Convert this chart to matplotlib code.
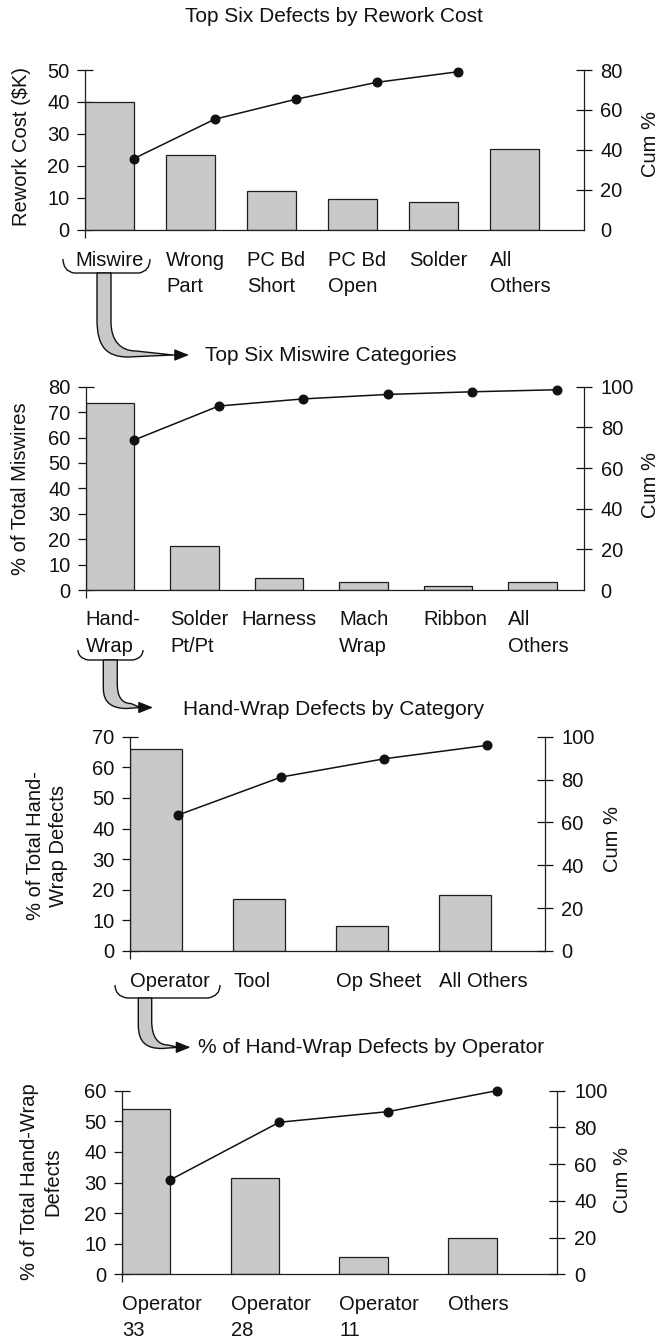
import numpy as np
import matplotlib
matplotlib.use("Agg")
import matplotlib.pyplot as plt
from matplotlib.path import Path
from matplotlib.patches import PathPatch, FancyArrowPatch
from matplotlib.transforms import blended_transform_factory

plt.rcParams['font.family'] = ['Liberation Sans', 'DejaVu Sans']

# ---------------- data ----------------
p1_title = "Top Six Defects by Rework Cost"
p1_cats = ["Miswire", "Wrong\nPart", "PC Bd\nShort", "PC Bd\nOpen", "Solder", "All\nOthers"]
p1_cost = [40.0, 23.3, 12.1, 9.6, 8.5, 25.1]
p1_cum = [35.5, 55.3, 65.3, 73.8, 79.1]
p1_ylabel = ["Rework Cost ($K)"]
p1_yticks = [0, 10, 20, 30, 40, 50]
p1_cticks = [0, 20, 40, 60, 80]

p2_title = "Top Six Miswire Categories"
p2_cats = ["Hand-\nWrap", "Solder\nPt/Pt", "Harness", "Mach\nWrap", "Ribbon", "All\nOthers"]
p2_pct = [73.7, 17.3, 4.7, 3.3, 1.7, 3.3]
p2_cum = [73.8, 90.5, 94.0, 96.2, 97.5, 98.5]
p2_ylabel = ["% of Total Miswires"]
p2_yticks = [0, 10, 20, 30, 40, 50, 60, 70, 80]
p2_cticks = [0, 20, 40, 60, 80, 100]

p3_title = "Hand-Wrap Defects by Category"
p3_cats = ["Operator", "Tool", "Op Sheet", "All Others"]
p3_pct = [65.9, 16.9, 8.3, 18.2]
p3_cum = [63.5, 81.2, 89.7, 96.0]
p3_ylabel = ["% of Total Hand-", "Wrap Defects"]
p3_yticks = [0, 10, 20, 30, 40, 50, 60, 70]
p3_cticks = [0, 20, 40, 60, 80, 100]

p4_title = "% of Hand-Wrap Defects by Operator"
p4_cats = ["Operator\n33", "Operator\n28", "Operator\n11", "Others"]
p4_pct = [54.0, 31.6, 5.8, 11.7]
p4_cum = [51.5, 82.8, 88.6, 100.0]
p4_ylabel = ["% of Total Hand-Wrap", "Defects"]
p4_yticks = [0, 10, 20, 30, 40, 50, 60]
p4_cticks = [0, 20, 40, 60, 80, 100]

cum_label = "Cum %"

# ---------------- style ----------------
W, H = 662, 1340
FS = 14.5
GREY = "#c9c9c9"
EDGE = "#1e1e1e"
INK = "#111111"

fig = plt.figure(figsize=(W / 100, H / 100), dpi=100)


def fx(x):
    return x / W


def fy(y):
    return 1 - y / H


def ftext(x, y, s, **kw):
    kw.setdefault("fontsize", FS)
    kw.setdefault("color", INK)
    fig.text(fx(x), fy(y), s, **kw)


def panel(cats, vals, cum, yticks, cticks, ylabel, box, xlim, width, moff,
          lab_base, lab_ha, ylab_x, ylab_y, cum_x, cum_y, hide_r0):
    l, r, t, b = box
    ax = fig.add_axes([fx(l), fy(b), (r - l) / W, (b - t) / H])
    x = np.arange(len(cats))
    ax.bar(x, vals, width=width, color=GREY, edgecolor=EDGE, linewidth=0.9, zorder=2)
    ax.set_xlim(*xlim)
    ax.set_ylim(yticks[0], yticks[-1])
    ax.set_yticks(yticks)
    ax.set_xticks([xlim[0]])
    ax.set_xticklabels([])
    for s in ("top", "right"):
        ax.spines[s].set_visible(False)
    for s in ("left", "bottom"):
        ax.spines[s].set_linewidth(0.9)
        ax.spines[s].set_color(EDGE)
    ax.tick_params(axis="y", direction="inout", length=11, width=0.9, pad=5.5,
                   labelsize=FS, colors=INK)
    ax.tick_params(axis="x", direction="out", length=5.5, width=0.9, colors=EDGE)
    ax.patch.set_visible(False)

    ax2 = ax.twinx()
    ax2.set_ylim(cticks[0], cticks[-1])
    ax2.set_yticks(cticks)
    for s in ("top", "left", "bottom"):
        ax2.spines[s].set_visible(False)
    ax2.spines["right"].set_linewidth(0.9)
    ax2.spines["right"].set_color(EDGE)
    ax2.tick_params(axis="y", direction="inout", length=11, width=0.9, pad=6.5,
                    labelsize=FS, colors=INK)
    if hide_r0:
        ax2.yaxis.get_major_ticks()[0].tick2line.set_visible(False)
    xc = x[:len(cum)] + moff
    ax2.plot(xc, cum, "-", color=INK, lw=1.1, zorder=5, clip_on=False)
    ax2.plot(xc, cum, "o", color=INK, ms=6.2, zorder=6, clip_on=False)

    tr = blended_transform_factory(ax.transData, fig.transFigure)
    for i, (c, ha) in enumerate(zip(cats, lab_ha)):
        xpos = i if ha == "center" else i - width / 2
        for k, line in enumerate(c.split("\n")):
            ax.text(xpos, fy(lab_base[k]), line, transform=tr, ha=ha, va="baseline",
                    fontsize=FS, color=INK)

    for line, xx in zip(ylabel, ylab_x):
        ftext(xx, ylab_y, line, rotation=90, ha="center", va="center")
    ftext(cum_x, cum_y, cum_label, rotation=90, ha="center", va="center")
    return ax


def connector(brace, outer, inner, tip, arrow_end):
    x0, x1, ytip, ybot, rr = brace
    verts = [(x0, ytip), (x0, ybot - 2), (x0 + rr, ybot), (x1 - rr, ybot),
             (x1, ybot - 2), (x1, ytip)]
    codes = [Path.MOVETO, Path.CURVE3, Path.CURVE3, Path.LINETO, Path.CURVE3, Path.CURVE3]
    P = Path([(fx(a), fy(b)) for a, b in verts], codes)
    fig.add_artist(PathPatch(P, facecolor="none", edgecolor=INK, lw=1.0,
                             transform=fig.transFigure))
    # grey band
    (xl, yt, yv, c1, c2, e) = outer
    (xr, yt2, yv2, d1, d2, f) = inner
    verts = [(xl, yt), (xl, yv), c1, c2, e, tip, f, d2, d1, (xr, yv2), (xr, yt2), (xl, yt)]
    codes = [Path.MOVETO, Path.LINETO, Path.CURVE4, Path.CURVE4, Path.CURVE4, Path.LINETO,
             Path.LINETO, Path.CURVE4, Path.CURVE4, Path.CURVE4, Path.LINETO, Path.CLOSEPOLY]
    P = Path([(fx(a), fy(b)) for a, b in verts], codes)
    fig.add_artist(PathPatch(P, facecolor=GREY, edgecolor=INK, lw=1.0,
                             transform=fig.transFigure))
    arr = FancyArrowPatch((fx(tip[0]), fy(tip[1])), (fx(arrow_end[0]), fy(arrow_end[1])),
                          transform=fig.transFigure,
                          arrowstyle="-|>,head_length=0.55,head_width=0.22",
                          mutation_scale=16, lw=1.0, color=INK, shrinkA=0, shrinkB=0)
    fig.add_artist(arr)


# ---------------- panels ----------------
panel(p1_cats, p1_cost, p1_cum, p1_yticks, p1_cticks, p1_ylabel,
      box=(85, 583.5, 70, 229.5), xlim=(-0.3, 5.854), width=0.6, moff=0.3,
      lab_base=(265.5, 292), lab_ha=["center", "left", "left", "left", "left", "left"],
      ylab_x=[21.5], ylab_y=147, cum_x=650, cum_y=144, hide_r0=True)

panel(p2_cats, p2_pct, p2_cum, p2_yticks, p2_cticks, p2_ylabel,
      box=(85.7, 584, 386.7, 590), xlim=(-0.2875, 5.61), width=0.575, moff=0.2875,
      lab_base=(625, 651.7), lab_ha=["left", "left", "center", "left", "left", "left"],
      ylab_x=[21], ylab_y=489, cum_x=650, cum_y=485, hide_r0=True)

panel(p3_cats, p3_pct, p3_cum, p3_yticks, p3_cticks, p3_ylabel,
      box=(130, 544.8, 736.7, 951), xlim=(-0.25, 3.777), width=0.5, moff=0.22,
      lab_base=(986.7, 1013), lab_ha=["left"] * 4,
      ylab_x=[36, 59], ylab_y=846, cum_x=612, cum_y=839, hide_r0=False)

panel(p4_cats, p4_pct, p4_cum, p4_yticks, p4_cticks, p4_ylabel,
      box=(122, 557.4, 1090.7, 1274.3), xlim=(-0.223, 3.782), width=0.446, moff=0.223,
      lab_base=(1310, 1335.5), lab_ha=["left"] * 4,
      ylab_x=[29.6, 52.8], ylab_y=1182, cum_x=623, cum_y=1180, hide_r0=False)

# ---------------- titles ----------------
ftext(334, 21.5, p1_title, ha="center", va="baseline", fontsize=15)
ftext(205, 361, p2_title, ha="left", va="baseline", fontsize=15)
ftext(183, 715, p3_title, ha="left", va="baseline", fontsize=15)
ftext(198.5, 1053, p4_title, ha="left", va="baseline", fontsize=15)

# ---------------- connectors ----------------
connector((63, 150, 259, 273, 11),
          (97, 273, 320, (97, 347), (107, 357), (128, 357)),
          (111, 273, 322, (111, 340), (120, 351), (136, 351)),
          (173, 355), (189, 355))
connector((78, 143, 650, 660, 10),
          (103.3, 660, 688, (103.3, 703), (112, 708.5), (127, 708.5)),
          (117.3, 660, 684, (117.3, 697), (122, 703.5), (131, 703.5)),
          (140, 707.5), (153, 707.5))
connector((115, 220, 985, 998, 12),
          (138.3, 998, 1025, (138.3, 1043), (147, 1048.5), (162, 1048.5)),
          (151.7, 998, 1021, (151.7, 1037), (158, 1045), (168, 1045)),
          (178, 1047.3), (190.5, 1047.3))

fig.savefig("out.png", dpi=100)
